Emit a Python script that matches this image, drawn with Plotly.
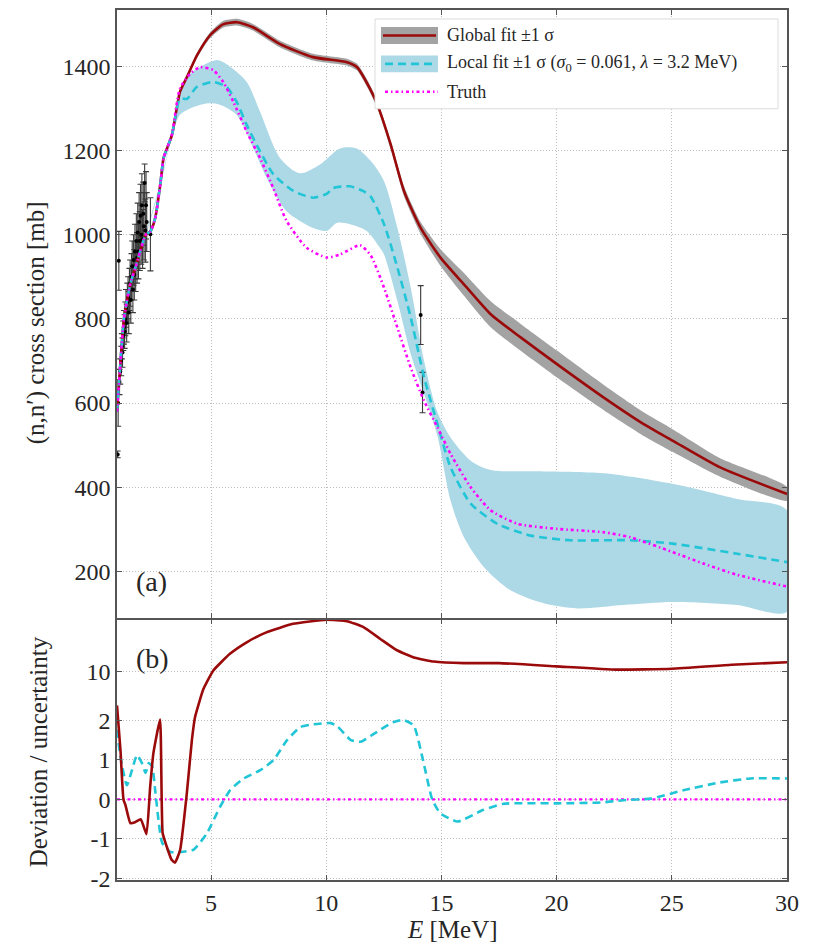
import math
import plotly.graph_objects as go
from plotly.subplots import make_subplots

# ---------------- data: panel (a), cross sections in mb ----------------
GLOBAL_E = [0.92, 1.0, 1.1, 1.22, 1.35, 1.5, 1.72, 1.93, 2.17, 2.37, 2.58, 2.8, 2.94,
            3.09, 3.31, 3.65, 3.96, 4.39, 4.96, 5.52, 6.13, 6.82, 8.0, 9.43, 10.9,
            11.34, 11.9, 12.25, 12.8, 13.38, 14.1, 14.97, 15.98, 17.14, 18.44, 20.03,
            22.05, 23.78, 25.03, 27.1, 30.0]
GLOBAL_XS = [580, 640, 720, 800, 843, 883, 922, 961, 1000, 1008, 1040, 1120, 1182,
             1205, 1238, 1339, 1375, 1426, 1474, 1500, 1505, 1493, 1453, 1422, 1410,
             1398, 1347, 1305, 1214, 1103, 1016, 945, 882, 811, 756, 692,
             613, 550, 511, 447, 384]
GLOBAL_SIG = [3, 3, 3, 3, 3, 3, 3, 3, 3, 3, 3, 4, 4,
              4, 5, 5, 5, 6, 7, 8, 8, 8, 8, 8, 8,
              8, 9, 9, 10, 12, 14, 20, 27, 31, 32, 32,
              30, 28, 27, 22, 16]

LOCAL_E = [0.92, 1.0, 1.1, 1.22, 1.35, 1.5, 1.72, 1.93, 2.17, 2.37, 2.58, 2.8, 2.94,
           3.09, 3.31, 3.65, 3.96, 4.38, 5.1, 5.68, 6.11, 6.55, 7.13, 7.7, 8.57,
           9.44, 10.02, 10.31, 11.03, 11.6, 11.94, 12.51, 13.09, 13.67, 14.25, 14.83,
           15.4, 16.27, 17.43, 18.87, 20.6, 23.2, 25.03, 27.83, 30.0]
LOCAL_XS = [580, 640, 720, 800, 843, 883, 922, 961, 1000, 1008, 1040, 1120, 1182,
            1205, 1238, 1323, 1323, 1351, 1363, 1351, 1316, 1261, 1198, 1144, 1104,
            1088, 1097, 1111, 1115, 1104, 1090, 1025, 922, 803, 661, 550,
            447, 361, 313, 285, 274, 274, 266, 242, 222]

BAND_UP_E = [0.92, 1.5, 2.17, 2.8, 3.31, 3.65, 4.09, 5.25, 5.68, 6.55, 7.13, 8.0,
             8.86, 9.73, 10.6, 11.32, 11.94, 12.51, 13.09, 13.67, 14.25, 14.83,
             15.4, 16.27, 17.14, 19.16, 22.05, 25.03, 27.83, 30.0]
BAND_UP = [583, 886, 1003, 1124, 1243, 1339, 1382, 1415, 1405, 1363, 1292, 1182,
           1146, 1167, 1205, 1205, 1175, 1127, 1016, 874, 700, 578,
           518, 463, 441, 438, 433, 408, 372, 345]
BAND_LO_E = [0.92, 1.5, 2.17, 2.8, 3.31, 3.65, 4.09, 4.81, 5.39, 6.11, 6.84, 7.42,
             8.28, 9.44, 10.02, 10.46, 11.03, 11.76, 12.33, 12.51, 13.09, 13.67,
             14.25, 14.83, 15.4, 15.98, 16.85, 18.0, 19.45, 20.9, 22.9, 25.03,
             27.83, 30.0]
BAND_LO = [577, 880, 997, 1116, 1233, 1285, 1300, 1312, 1309, 1285, 1205, 1135,
           1056, 1016, 1009, 1028, 1025, 1009, 969, 953, 843, 716,
           621, 522, 368, 281, 210, 155, 124, 112, 120, 127,
           120, 104]

TRUTH_E = [0.92, 1.0, 1.1, 1.22, 1.35, 1.5, 1.72, 1.93, 2.17, 2.37, 2.58, 2.8, 2.94,
           3.09, 3.31, 3.65, 4.09, 4.52, 5.1, 5.53, 5.97, 6.55, 7.13, 7.7, 8.28,
           9.15, 10.02, 10.6, 11.47, 11.94, 12.51, 13.09, 13.67, 14.25, 14.83, 15.4,
           16.27, 17.14, 18.3, 20.03, 22.05, 23.2, 25.03, 26.4, 27.83, 30.0]
TRUTH_XS = [580, 640, 720, 800, 843, 883, 922, 961, 1000, 1008, 1040, 1120, 1182,
            1205, 1240, 1347, 1382, 1398, 1391, 1363, 1316, 1245, 1182, 1111, 1033,
            969, 946, 953, 975, 950, 874, 779, 684, 605, 542, 479,
            400, 345, 313, 301, 293, 281, 246, 218, 192, 164]

# measured points with one-sigma uncertainties
EXP_E = [0.95, 0.97, 1.00, 1.03, 1.06, 1.10, 1.13, 1.16, 1.19, 1.22, 1.25, 1.28,
         1.31, 1.34, 1.37, 1.40, 1.43, 1.46, 1.49, 1.52, 1.55, 1.58, 1.61, 1.64,
         1.67, 1.70, 1.73, 1.76, 1.79, 1.82, 1.85, 1.88, 1.91, 1.94, 1.97, 2.00,
         2.03, 2.06, 2.09, 2.12, 2.15, 2.18, 2.21, 2.37, 14.10, 14.18]
EXP_XS = [478, 600, 938, 650, 675, 700, 735, 720, 760, 780, 770, 800,
          825, 790, 840, 850, 815, 870, 885, 845, 900, 925, 870, 940,
          905, 960, 925, 985, 945, 1005, 960, 1030, 985, 1045, 1000, 1070,
          990, 1050, 1020, 1123, 1010, 1070, 1030, 1001, 809, 625]
EXP_ERR = [8, 55, 70, 30, 30, 35, 30, 35, 35, 40, 40, 40,
           45, 45, 45, 50, 50, 50, 55, 55, 55, 60, 55, 60,
           60, 65, 60, 65, 60, 70, 65, 70, 70, 75, 70, 75,
           70, 75, 80, 45, 75, 80, 70, 87, 70, 48]

# ---------------- data: panel (b), deviation / uncertainty ----------------
DEV_GLOBAL_E = [0.92, 1.07, 1.2, 1.29, 1.5, 1.7, 1.95, 2.2, 2.36, 2.5, 2.79, 2.9,
                3.07, 3.29, 3.44, 3.66, 3.95, 4.17, 4.31, 4.67, 5.1, 5.82, 6.55,
                7.4, 8.56, 10.0, 10.9, 11.6, 12.35, 13.07, 13.8, 14.67, 15.97,
                17.5, 20.0, 22.6, 25.0, 27.6, 30.0]
DEV_GLOBAL = [3.27, 1.25, 0.0, -0.15, -0.6, -0.58, -0.5, -0.88, 0.32, 1.17, 2.05, -0.85,
              -1.18, -1.53, -1.6, -1.28, 0.15, 1.5, 2.25, 5.6, 10.3, 17.8, 26,
              36, 47.7, 54.5, 52, 43, 29, 20, 15.8, 13.8, 13.1,
              13.1, 11.8, 10.6, 10.9, 12.4, 13.5]
DEV_LOCAL_E = [0.92, 1.07, 1.35, 1.79, 2.0, 2.16, 2.3, 2.45, 2.59, 2.88, 3.24, 3.68,
               4.25, 4.83, 5.4, 5.84, 6.42, 7.14, 7.72, 8.3, 8.88, 9.45, 10.2, 10.5,
               11.07, 11.5, 12.1, 12.9, 13.35, 13.8, 14.2, 14.6, 14.95, 15.7, 16.8,
               17.7, 20.0, 21.9, 22.9, 24.1, 25.5, 27.0, 28.4, 30.0]
DEV_LOCAL = [1.76, 1.08, 0.36, 1.12, 0.92, 0.67, 0.92, 0.83, 0.16, -1.1, -1.33, -1.33,
             -1.27, -0.85, -0.18, 0.24, 0.53, 0.74, 1.0, 1.5, 1.83, 1.9, 1.93, 1.84,
             1.5, 1.46, 1.67, 1.95, 2.03, 1.87, 1.0, 0.0, -0.35, -0.56, -0.27,
             -0.11, -0.1, -0.08, -0.02, 0.02, 0.23, 0.42, 0.53, 0.53]
DEV_TRUTH_E = [0.92, 30.0]
DEV_TRUTH = [0.0, 0.0]

XS_TICKS = [200, 400, 600, 800, 1000, 1200, 1400]
E_TICKS = [5, 10, 15, 20, 25, 30]
DEV_TICKS = [-2, -1, 0, 1, 2, 10]

# ---------------- styling ----------------
FONT = "Liberation Serif"
RED = "#9b0a0a"
CYAN = "#22c5d6"
MAGENTA = "#ff00ff"
GRAY_BAND = "#a3a3a3"
BLUE_BAND = "#add8e6"
AXIS = "#555555"
TXT = "#262626"
CYAN_DASH = "8px,5px"
TRUTH_DASH = "3px,3px,1.5px,3px"
AXIS_LW = 1.5

LIN = 2.0          # linear region of the deviation axis
LOG_GAIN = 1.774   # axis units per decade above the linear region


def dev_axis(v):
    """Map a deviation onto the linear-then-logarithmic panel (b) scale."""
    a = abs(v)
    if a <= LIN:
        return v
    return math.copysign(LIN + LOG_GAIN * math.log10(a / LIN), v)


W, H = 816, 945
L, R, T, B = 117, 29, 8, 65
PW, PH = W - L - R, H - T - B
SPLIT = 261 / PH   # height fraction of panel (b)

fig = make_subplots(rows=2, cols=1, shared_xaxes=True, vertical_spacing=0)

# global fit band
g_up = [x + s for x, s in zip(GLOBAL_XS, GLOBAL_SIG)]
g_lo = [x - s for x, s in zip(GLOBAL_XS, GLOBAL_SIG)]
fig.add_trace(go.Scatter(x=GLOBAL_E + GLOBAL_E[::-1], y=g_up + g_lo[::-1],
                         fill="toself", fillcolor=GRAY_BAND, mode="lines",
                         line=dict(width=0, shape="spline", smoothing=0.6),
                         hoverinfo="skip", showlegend=False), row=1, col=1)
# local fit band
fig.add_trace(go.Scatter(x=BAND_UP_E + BAND_LO_E[::-1], y=BAND_UP + BAND_LO[::-1],
                         fill="toself", fillcolor=BLUE_BAND, mode="lines",
                         line=dict(width=0, shape="spline", smoothing=0.8),
                         hoverinfo="skip", showlegend=False), row=1, col=1)
# measurements
fig.add_trace(go.Scatter(x=EXP_E, y=EXP_XS, mode="markers",
                         marker=dict(color="black", size=4),
                         error_y=dict(type="data", array=EXP_ERR, color="#3a3a3a",
                                      thickness=1.1, width=3),
                         showlegend=False), row=1, col=1)
fig.add_trace(go.Scatter(x=GLOBAL_E, y=GLOBAL_XS, mode="lines",
                         line=dict(color=RED, width=2.6, shape="spline", smoothing=0.6),
                         showlegend=False), row=1, col=1)
fig.add_trace(go.Scatter(x=LOCAL_E, y=LOCAL_XS, mode="lines",
                         line=dict(color=CYAN, width=2.6, dash=CYAN_DASH,
                                   shape="spline", smoothing=0.6),
                         showlegend=False), row=1, col=1)
fig.add_trace(go.Scatter(x=TRUTH_E, y=TRUTH_XS, mode="lines",
                         line=dict(color=MAGENTA, width=2.6, dash=TRUTH_DASH,
                                   shape="spline", smoothing=0.6),
                         showlegend=False), row=1, col=1)

# panel (b)
fig.add_trace(go.Scatter(x=DEV_TRUTH_E, y=[dev_axis(v) for v in DEV_TRUTH], mode="lines",
                         line=dict(color=MAGENTA, width=2.4, dash=TRUTH_DASH),
                         showlegend=False), row=2, col=1)
fig.add_trace(go.Scatter(x=DEV_LOCAL_E, y=[dev_axis(v) for v in DEV_LOCAL], mode="lines",
                         line=dict(color=CYAN, width=2.6, dash=CYAN_DASH,
                                   shape="spline", smoothing=0.5),
                         showlegend=False), row=2, col=1)
fig.add_trace(go.Scatter(x=DEV_GLOBAL_E, y=[dev_axis(v) for v in DEV_GLOBAL], mode="lines",
                         line=dict(color=RED, width=2.6, shape="spline", smoothing=0.4),
                         showlegend=False), row=2, col=1)

axis_common = dict(showline=True, linecolor=AXIS, linewidth=AXIS_LW, mirror="ticks",
                   ticks="inside", ticklen=5, tickcolor=AXIS, showgrid=True,
                   gridcolor="#bdbdbd", griddash="1px,2px", gridwidth=1, zeroline=False,
                   tickfont=dict(family=FONT, size=24, color=TXT))

fig.update_xaxes(range=[0.92, 30], tickvals=E_TICKS, **axis_common)
fig.update_xaxes(showticklabels=False, row=1, col=1)
fig.update_yaxes(range=[89, 1534], tickvals=XS_TICKS, row=1, col=1, **axis_common)
fig.update_yaxes(range=[-2.04, 4.55], tickvals=[dev_axis(t) for t in DEV_TICKS],
                 ticktext=[str(t) for t in DEV_TICKS], row=2, col=1, **axis_common)
# the two panels share one boundary line
fig.update_yaxes(domain=[SPLIT + AXIS_LW / PH, 1], row=1, col=1)
fig.update_yaxes(domain=[0, SPLIT], row=2, col=1)


def px(xp):
    return (xp - L) / PW


def py(yp):
    return (H - B - yp) / PH


shapes = []
annotations = []

# legend box and swatches
shapes.append(dict(type="rect", xref="paper", yref="paper", x0=px(375), x1=px(778),
                   y0=py(107), y1=py(17), fillcolor="white",
                   line=dict(color="#dcdcdc", width=1), layer="above"))
shapes.append(dict(type="rect", xref="paper", yref="paper", x0=px(381), x1=px(438),
                   y0=py(42), y1=py(25), fillcolor=GRAY_BAND, line=dict(width=0),
                   layer="above"))
shapes.append(dict(type="line", xref="paper", yref="paper", x0=px(383), x1=px(436),
                   y0=py(33.5), y1=py(33.5), line=dict(color=RED, width=2.6),
                   layer="above"))
shapes.append(dict(type="rect", xref="paper", yref="paper", x0=px(381), x1=px(438),
                   y0=py(70.5), y1=py(53.5), fillcolor=BLUE_BAND, line=dict(width=0),
                   layer="above"))
shapes.append(dict(type="line", xref="paper", yref="paper", x0=px(385), x1=px(436),
                   y0=py(62), y1=py(62), line=dict(color=CYAN, width=2.6, dash=CYAN_DASH),
                   layer="above"))
shapes.append(dict(type="line", xref="paper", yref="paper", x0=px(385), x1=px(438),
                   y0=py(90), y1=py(90), line=dict(color=MAGENTA, width=2.6, dash=TRUTH_DASH),
                   layer="above"))

legend_font = dict(family=FONT, size=18, color=TXT)
for text, yc in [("Global fit ±1 σ", 33),
                 ("Local fit ±1 σ (<i>σ</i><sub>0</sub> = 0.061, <i>λ</i> = 3.2 MeV)", 62),
                 ("Truth", 90)]:
    annotations.append(dict(text=text, xref="paper", yref="paper", x=px(445), y=py(yc),
                            xanchor="left", yanchor="middle", showarrow=False,
                            font=legend_font))

# panel labels and axis titles
annotations.append(dict(text="(a)", xref="paper", yref="paper", x=px(134), y=py(581),
                        xanchor="left", yanchor="middle", showarrow=False,
                        font=dict(family=FONT, size=28, color=TXT)))
annotations.append(dict(text="(b)", xref="paper", yref="paper", x=px(134), y=py(658),
                        xanchor="left", yanchor="middle", showarrow=False,
                        font=dict(family=FONT, size=28, color=TXT)))
annotations.append(dict(text="(n,n′) cross section [mb]", xref="paper", yref="paper",
                        x=px(36), y=py(322), xanchor="center", yanchor="middle",
                        textangle=-90, showarrow=False,
                        font=dict(family=FONT, size=25, color=TXT)))
annotations.append(dict(text="Deviation / uncertainty", xref="paper", yref="paper",
                        x=px(38), y=py(752), xanchor="center", yanchor="middle",
                        textangle=-90, showarrow=False,
                        font=dict(family=FONT, size=25, color=TXT)))
annotations.append(dict(text="<i>E</i> [MeV]", xref="paper", yref="paper",
                        x=px(452), y=py(930), xanchor="center", yanchor="middle",
                        showarrow=False, font=dict(family=FONT, size=25, color=TXT)))

fig.update_layout(width=W, height=H, margin=dict(l=L, r=R, t=T, b=B),
                  paper_bgcolor="white", plot_bgcolor="white",
                  shapes=shapes, annotations=annotations, showlegend=False)

fig.write_html("out.html")
